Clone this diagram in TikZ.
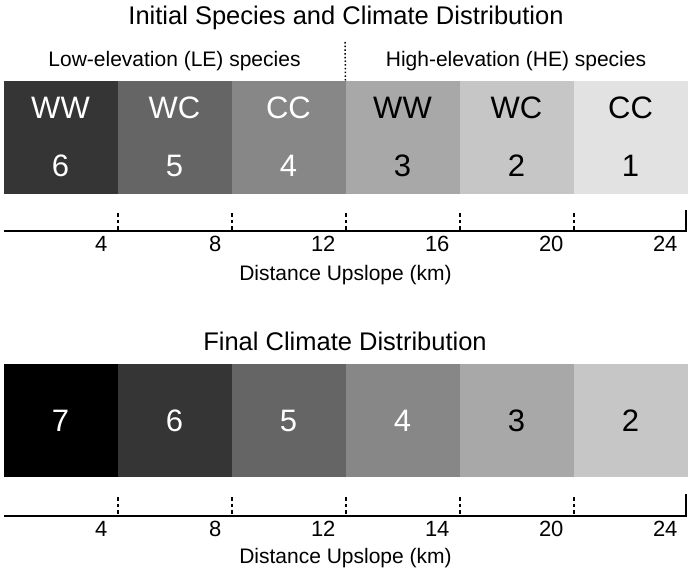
\documentclass[tikz,border=0pt]{standalone}
\usepackage{fontspec}
\setmainfont{Liberation Sans}
\usepackage{xcolor}
\usetikzlibrary{positioning}
\definecolor{g7}{HTML}{000000}
\definecolor{g6}{HTML}{353535}
\definecolor{g5}{HTML}{656565}
\definecolor{g4}{HTML}{878787}
\definecolor{g3}{HTML}{A8A8A8}
\definecolor{g2}{HTML}{C6C6C6}
\definecolor{g1}{HTML}{E2E2E2}
\tikzset{
  cell/.style={rectangle, fill=#1, draw=none, minimum width=114pt, minimum height=113pt,
               inner sep=0pt, outer sep=0pt, align=center, font=\fontsize{31}{58}\selectfont},
  ttl/.style={font=\fontsize{25.5}{27}\selectfont, anchor=base},
  sub/.style={font=\fontsize{21}{23}\selectfont, anchor=base},
  axisln/.style={line width=2pt},
  tickmk/.style={line width=2pt, dash pattern=on 3.5pt off 3pt},
  ticklab/.style={font=\fontsize{22}{24}\selectfont, anchor=base east},
  divider/.style={line width=1.5pt, dash pattern=on 1.5pt off 2.2pt},
}

\begin{document}
\begin{tikzpicture}[x=1pt, y=-1pt]
\useasboundingbox (0,0) rectangle (693,571);

% INITIAL DISTRIBUTION
\node[ttl] (title1) at (346,24) {Initial Species and Climate Distribution};
\node[sub] (le) at (174.5,66) {Low-elevation (LE) species};
\node[sub] (he) at (516,66) {High-elevation (HE) species};

\node[cell=g6, text=white] (top1) at (60.5,137) {WW\\6};
\node[cell=g5, text=white, right=0pt of top1] (top2) {WC\\5};
\node[cell=g4, text=white, right=0pt of top2] (top3) {CC\\4};
\node[cell=g3, right=0pt of top3] (top4) {WW\\3};
\node[cell=g2, right=0pt of top4] (top5) {WC\\2};
\node[cell=g1, right=0pt of top5] (top6) {CC\\1};

\coordinate (divtop) at (345,42);
\draw[divider] (divtop) -- (top3.north east);

% top axis
\coordinate (ax1a) at (4,231);
\coordinate (ax1b) at (686,231);
\draw[axisln] (ax1a) -- (ax1b) -- ++(0,-21);
\foreach \k/\lab in {1/4,2/8,3/12,4/16,5/20,6/24} {
  \node[ticklab] (ta\k) at ({111+114*(\k-1)},251) {\lab};
}
\foreach \k in {1,...,5} {
  \draw[tickmk] ({3.5+114*\k},213) -- ({3.5+114*\k},231);
}
\node[sub] (xlab1) at (345.5,280) {Distance Upslope (km)};

% FINAL DISTRIBUTION
\node[ttl] (title2) at (345,350) {Final Climate Distribution};

\node[cell=g7, text=white] (bot1) at (60.5,420.5) {7};
\node[cell=g6, text=white, right=0pt of bot1] (bot2) {6};
\node[cell=g5, text=white, right=0pt of bot2] (bot3) {5};
\node[cell=g4, text=white, right=0pt of bot3] (bot4) {4};
\node[cell=g3, right=0pt of bot4] (bot5) {3};
\node[cell=g2, right=0pt of bot5] (bot6) {2};

% bottom axis
\coordinate (ax2a) at (4,516);
\coordinate (ax2b) at (686,516);
\draw[axisln] (ax2a) -- (ax2b) -- ++(0,-22);
\foreach \k/\lab in {1/4,2/8,3/12,4/14,5/20,6/24} {
  \node[ticklab] (tb\k) at ({111+114*(\k-1)},536) {\lab};
}
\foreach \k in {1,...,5} {
  \draw[tickmk] ({3.5+114*\k},497) -- ({3.5+114*\k},516);
}
\node[sub] (xlab2) at (345.5,563) {Distance Upslope (km)};

\end{tikzpicture}
\end{document}
